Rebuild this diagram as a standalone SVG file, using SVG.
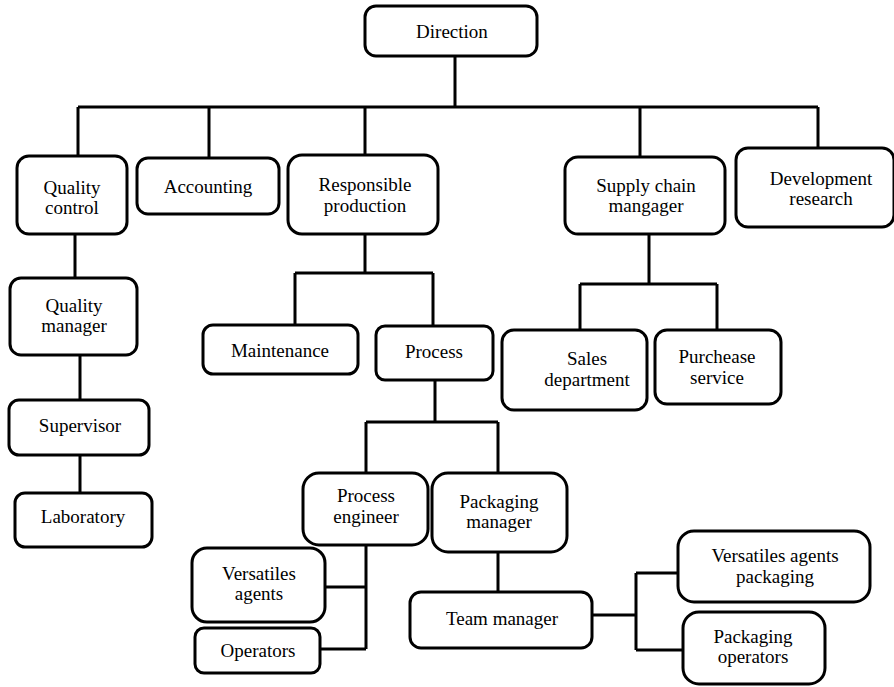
<svg xmlns="http://www.w3.org/2000/svg" width="894" height="687" viewBox="0 0 894 687" font-family="Liberation Serif, Times New Roman, serif" font-size="19" text-anchor="middle">
<style>
.box{fill:#fff;stroke:#000;stroke-width:3}
.ln{fill:none;stroke:#000;stroke-width:3}
</style>
<rect width="894" height="687" fill="#fff"/>
<g id="connectors">
<path class="ln" d="M455 56V107M78 107H818M78 107V156M209 107V158M365 107V155M640 107V157M818 107V148"/>
<path class="ln" d="M75 234V278M80 355V400M80 455V493"/>
<path class="ln" d="M365 234V273M295 273H433M295 273V325M433 273V326"/>
<path class="ln" d="M435 380V422M366 422H498M366 422V473M498 422V473"/>
<path class="ln" d="M366 545V649M325 587H366M319 649H366"/>
<path class="ln" d="M498 552V592M592 615H636M636 573V650M636 573H678M636 650H683"/>
<path class="ln" d="M649 234V284M580 284H717M580 284V330M717 284V330"/>
</g>
<g id="direction"><rect class="box" x="365" y="6" width="172" height="50" rx="11"/><text x="452" y="38">Direction</text></g>
<g id="quality-control"><rect class="box" x="17" y="156" width="110" height="78" rx="12"/><text x="72" y="194">Quality</text><text x="72" y="214">control</text></g>
<g id="accounting"><rect class="box" x="137" y="158" width="142" height="56" rx="11"/><text x="208" y="193">Accounting</text></g>
<g id="responsible-production"><rect class="box" x="288" y="155" width="150" height="79" rx="14"/><text x="365" y="191">Responsible</text><text x="365" y="212">production</text></g>
<g id="supply-chain"><rect class="box" x="565" y="157" width="160" height="77" rx="13"/><text x="646" y="192">Supply chain</text><text x="646" y="212">mangager</text></g>
<g id="development-research"><rect class="box" x="736" y="148" width="158" height="79" rx="12"/><text x="821" y="185">Development</text><text x="821" y="205">research</text></g>
<g id="quality-manager"><rect class="box" x="10" y="278" width="127" height="77" rx="11"/><text x="74" y="312">Quality</text><text x="74" y="332">manager</text></g>
<g id="supervisor"><rect class="box" x="9" y="400" width="140" height="55" rx="10"/><text x="80" y="432">Supervisor</text></g>
<g id="laboratory"><rect class="box" x="15" y="493" width="137" height="54" rx="10"/><text x="83" y="523">Laboratory</text></g>
<g id="maintenance"><rect class="box" x="203" y="325" width="155" height="49" rx="10"/><text x="280" y="357">Maintenance</text></g>
<g id="process"><rect class="box" x="376" y="326" width="117" height="54" rx="9"/><text x="434" y="358">Process</text></g>
<g id="sales-department"><rect class="box" x="502" y="330" width="145" height="80" rx="12"/><text x="587" y="365">Sales</text><text x="587" y="386">department</text></g>
<g id="purchease-service"><rect class="box" x="655" y="330" width="126" height="74" rx="12"/><text x="717" y="363">Purchease</text><text x="717" y="384">service</text></g>
<g id="process-engineer"><rect class="box" x="303" y="473" width="125" height="72" rx="16"/><text x="366" y="502">Process</text><text x="366" y="523">engineer</text></g>
<g id="packaging-manager"><rect class="box" x="432" y="473" width="135" height="79" rx="16"/><text x="499" y="508">Packaging</text><text x="499" y="528">manager</text></g>
<g id="versatiles-agents"><rect class="box" x="192" y="548" width="133" height="74" rx="15"/><text x="259" y="580">Versatiles</text><text x="259" y="600">agents</text></g>
<g id="operators"><rect class="box" x="195" y="628" width="125" height="45" rx="9"/><text x="258" y="657">Operators</text></g>
<g id="team-manager"><rect class="box" x="410" y="592" width="182" height="56" rx="11"/><text x="502" y="625">Team manager</text></g>
<g id="versatiles-agents-packaging"><rect class="box" x="678" y="531" width="192" height="71" rx="16"/><text x="775" y="562">Versatiles agents</text><text x="775" y="583">packaging</text></g>
<g id="packaging-operators"><rect class="box" x="683" y="612" width="142" height="72" rx="16"/><text x="753" y="643">Packaging</text><text x="753" y="663">operators</text></g>
</svg>
